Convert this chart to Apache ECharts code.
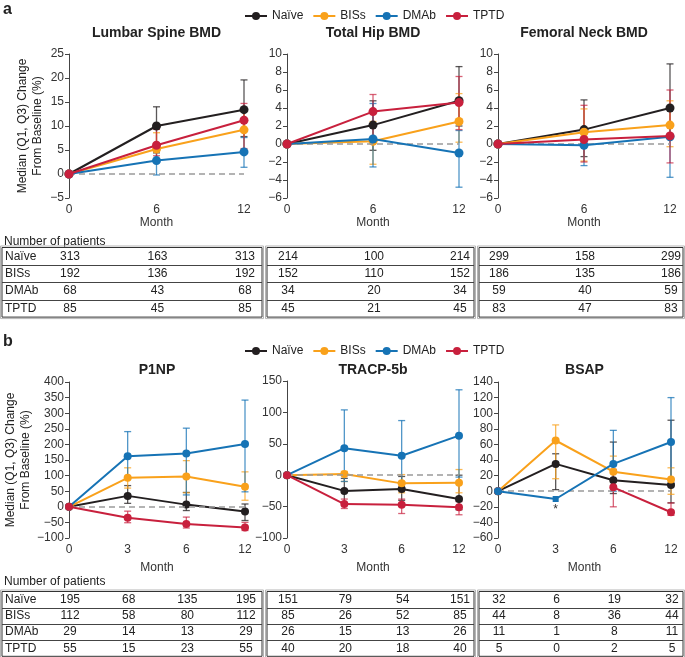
<!DOCTYPE html>
<html><head><meta charset="utf-8">
<script src="https://cdn.jsdelivr.net/npm/echarts@6/dist/echarts.min.js"></script>
<style>html,body{margin:0;padding:0;background:#fff}#c{width:685px;height:657px}</style>
</head><body><div id="c"></div>
<script>
// ---------- categories ----------
const groups = ['Naïve', 'BISs', 'DMAb', 'TPTD'];
const monthsA = ['0', '6', '12'];
const monthsB = ['0', '3', '6', '12'];
const titles = ['Lumbar Spine BMD', 'Total Hip BMD', 'Femoral Neck BMD', 'P1NP', 'TRACP-5b', 'BSAP'];

// ---------- Lumbar Spine BMD (rows: Naïve, BISs, DMAb, TPTD) ----------
const lsMedian = [[0, 10.0, 13.4], [0, 5.2, 9.2], [0, 2.8, 4.6], [0, 6.0, 11.2]];
const lsQ1 = [[null, 4.4, 7.8], [null, 3.2, 5.0], [null, -0.2, 1.4], [null, 3.8, 5.3]];
const lsQ3 = [[null, 14.0, 19.6], [null, 8.6, 13.0], [null, 5.0, 7.6], [null, 9.3, 14.7]];
// ---------- Total Hip BMD ----------
const thMedian = [[0, 2.1, 4.8], [0, 0.3, 2.5], [0, 0.55, -1.0], [0, 3.6, 4.6]];
const thQ1 = [[null, -0.7, 2.0], [null, -2.25, 0.2], [null, -2.55, -4.8], [null, 0.4, 1.6]];
const thQ3 = [[null, 4.8, 8.6], [null, 2.5, 5.6], [null, 4.5, 1.5], [null, 5.5, 7.5]];
// ---------- Femoral Neck BMD ----------
const fnMedian = [[0, 1.6, 4.0], [0, 1.3, 2.1], [0, -0.15, 0.8], [0, 0.5, 0.9]];
const fnQ1 = [[null, -1.4, 0.9], [null, -1.9, -0.3], [null, -2.4, -3.7], [null, -2.0, -2.1]];
const fnQ3 = [[null, 4.9, 8.9], [null, 3.9, 4.8], [null, 1.5, 2.2], [null, 4.3, 6.0]];
// ---------- P1NP ----------
const p1Median = [[0, 35, 7, -15], [0, 93, 97, 64], [0, 162, 171, 201], [0, -35, -55, -66]];
const p1Q1 = [[null, 11, -12, -44], [null, 60, 45, 21], [null, 90, 38, 48], [null, -51, -68, -76]];
const p1Q3 = [[null, 68, 46, 9], [null, 125, 148, 112], [null, 241, 252, 342], [null, -14, -33, -50]];
// ---------- TRACP-5b ----------
const trMedian = [[0, -25, -22, -38], [0, 2, -13, -12], [0, 43, 31, 63], [0, -46, -47, -51]];
const trQ1 = [[null, -45, -40, -55], [null, -10, -28, -28], [null, -10, -10, -3], [null, -53, -61, -63]];
const trQ3 = [[null, -5, -2, 0], [null, 6, 1, 9], [null, 104, 87, 136], [null, -38, -38, -42]];
// ---------- BSAP ----------
const bsMedian = [[0, 35, 14, 8], [0, 65, 25, 15], [0, -10, 35, 63], [0, null, 5, -27]];
const bsQ1 = [[null, 2, -3, -15], [null, 16, 12, -4], [null, null, 0, 10], [null, null, -20, -31]];
const bsQ3 = [[null, 48, 63, 91], [null, 85, 45, 30], [null, null, 78, 120], [null, null, 28, -15]];
const bsNote = [null, '*', null, null]; // note under DMAb at month 3

// ---------- Number of patients ----------
const lsN = [[313, 163, 313], [192, 136, 192], [68, 43, 68], [85, 45, 85]];
const thN = [[214, 100, 214], [152, 110, 152], [34, 20, 34], [45, 21, 45]];
const fnN = [[299, 158, 299], [186, 135, 186], [59, 40, 59], [83, 47, 83]];
const p1N = [[195, 68, 135, 195], [112, 58, 80, 112], [29, 14, 13, 29], [55, 15, 23, 55]];
const trN = [[151, 79, 54, 151], [85, 26, 52, 85], [26, 15, 13, 26], [40, 20, 18, 40]];
const bsN = [[32, 6, 19, 32], [44, 8, 36, 44], [11, 1, 8, 11], [5, 0, 2, 5]];

// ---------- axis ranges [min, max, interval] ----------
const yRanges = [[-5, 25, 5], [-6, 10, 2], [-6, 10, 2], [-100, 400, 50], [-100, 150, 50], [-60, 140, 20]];

// ---------- styling ----------
const FONT = "'Liberation Sans', Arial, sans-serif";
const colors = ['#231f20', '#f9a11b', '#1673b5', '#c8203d'];
const errColors = ['rgba(35,31,32,0.75)', 'rgba(249,161,27,0.75)', 'rgba(22,115,181,0.75)', 'rgba(200,32,61,0.7)'];
const gridBoxes = [
  { left: 69, top: 54, width: 175, height: 144 },
  { left: 287, top: 54, width: 172, height: 144 },
  { left: 498, top: 54, width: 172, height: 144 },
  { left: 69, top: 382, width: 176, height: 156 },
  { left: 287, top: 381, width: 172, height: 157 },
  { left: 498, top: 382, width: 173, height: 156 }
];

const chartDefs = [
  { cats: monthsA, med: lsMedian, q1: lsQ1, q3: lsQ3 },
  { cats: monthsA, med: thMedian, q1: thQ1, q3: thQ3 },
  { cats: monthsA, med: fnMedian, q1: fnQ1, q3: fnQ3 },
  { cats: monthsB, med: p1Median, q1: p1Q1, q3: p1Q3 },
  { cats: monthsB, med: trMedian, q1: trQ1, q3: trQ3 },
  { cats: monthsB, med: bsMedian, q1: bsQ1, q3: bsQ3 }
];

const minus = v => String(v).replace('-', '\u2212');

const xAxes = chartDefs.map((c, i) => ({
  type: 'category', gridIndex: i, data: c.cats, boundaryGap: false,
  axisLine: { show: false }, axisTick: { show: false },
  axisLabel: { fontSize: 12, color: '#333', fontFamily: FONT, margin: 6 },
  name: 'Month', nameLocation: 'middle', nameGap: i < 3 ? 17 : 24,
  nameTextStyle: { fontSize: 12, color: '#333', fontFamily: FONT }
}));

const yAxes = yRanges.map((r, i) => ({
  type: 'value', gridIndex: i, min: r[0], max: r[1], interval: r[2],
  axisLine: { show: true, lineStyle: { color: '#444', width: 1 } },
  axisTick: { show: true, length: 4, lineStyle: { color: '#444' } },
  splitLine: { show: false },
  axisLabel: { fontSize: 12, color: '#333', fontFamily: FONT, margin: 5, formatter: minus },
  name: (i === 0 || i === 3) ? 'Median (Q1, Q3) Change\nFrom Baseline (%)' : '',
  nameLocation: 'middle', nameGap: 24,
  nameTextStyle: { fontSize: 12, color: '#222', fontFamily: FONT, lineHeight: 15 }
}));

function errSeries(ci, gi, c) {
  const data = [];
  c.cats.forEach((cat, j) => {
    if (c.q1[gi][j] != null && c.q3[gi][j] != null) data.push([j, c.q1[gi][j], c.q3[gi][j]]);
  });
  return {
    type: 'custom', xAxisIndex: ci, yAxisIndex: ci, silent: true, z: 2,
    encode: { x: 0, y: [1, 2] },
    renderItem: (params, api) => {
      const x = api.value(0);
      const lo = api.coord([x, api.value(1)]);
      const hi = api.coord([x, api.value(2)]);
      const w = 3.5;
      const st = { stroke: errColors[gi], lineWidth: 1.3 };
      return {
        type: 'group', children: [
          { type: 'line', shape: { x1: lo[0], y1: lo[1], x2: hi[0], y2: hi[1] }, style: st },
          { type: 'line', shape: { x1: lo[0] - w, y1: lo[1], x2: lo[0] + w, y2: lo[1] }, style: st },
          { type: 'line', shape: { x1: hi[0] - w, y1: hi[1], x2: hi[0] + w, y2: hi[1] }, style: st }
        ]
      };
    },
    data
  };
}

const series = [];
chartDefs.forEach((c, ci) => {
  groups.forEach((g, gi) => {
    let data = c.med[gi].slice();
    if (ci === 5 && gi === 2) {
      data = data.map((v, j) => bsNote[j] ? {
        value: v, symbol: 'rect', symbolSize: 6,
        label: { show: true, position: 'bottom', distance: 2, formatter: bsNote[j], color: '#333', fontSize: 12 }
      } : v);
    }
    const s = {
      type: 'line', name: g, xAxisIndex: ci, yAxisIndex: ci, data,
      symbol: 'circle', symbolSize: ci < 3 ? 9 : 8, connectNulls: false,
      lineStyle: { width: 2, color: colors[gi] }, itemStyle: { color: colors[gi] },
      z: (ci === 5 && gi === 2) ? 9 : 3 + gi, silent: true
    };
    if (gi === 0) {
      s.markLine = {
        silent: true, symbol: ['none', 'none'], label: { show: false },
        lineStyle: { type: [6, 4], color: '#9a9a9a', width: 1.5 },
        data: [{ yAxis: 0 }]
      };
    }
    series.push(s);
    series.push(errSeries(ci, gi, c));
  });
});

const legendBase = {
  left: 239, itemWidth: 22, itemHeight: 10, itemGap: 9, data: groups,
  textStyle: { fontSize: 12, color: '#222', fontFamily: FONT }, selectedMode: false
};

const chart = echarts.init(document.getElementById('c'));
chart.setOption({
  animation: false,
  grid: gridBoxes.map(g => Object.assign({ containLabel: false }, g)),
  xAxis: xAxes, yAxis: yAxes,
  legend: [Object.assign({ top: 5 }, legendBase), Object.assign({ top: 340 }, legendBase)],
  series
});

// ---------- titles + tables (positions from the axes) ----------
function txt(text, x, y, font, align) {
  return {
    type: 'text', silent: true, x, y,
    style: { text, font, fill: '#222', align: align || 'center', textAlign: align || 'center', verticalAlign: 'middle', textVerticalAlign: 'middle' }
  };
}
const els = [];
els.push(txt('a', 3, 10, 'bold 16px ' + FONT, 'left'));
els.push(txt('b', 3, 342, 'bold 16px ' + FONT, 'left'));
gridBoxes.forEach((g, i) => {
  els.push(txt(titles[i], g.left + g.width / 2, i < 3 ? 33 : 370, 'bold 14px ' + FONT));
});
const boxX = [[2, 262], [267, 474], [479, 683]];
const panels = [
  { charts: [0, 1, 2], counts: [lsN, thN, fnN], top: 247.5, rowH: 17.4, capY: 242 },
  { charts: [3, 4, 5], counts: [p1N, trN, bsN], top: 591.5, rowH: 16.2, capY: 582 }
];
panels.forEach(p => {
  els.push(txt('Number of patients', 4, p.capY, '12px ' + FONT, 'left'));
  p.charts.forEach((ci, k) => {
    const [x0, x1] = boxX[k];
    const h = p.rowH * 4;
    els.push({ type: 'rect', silent: true, shape: { x: x0 - 1.5, y: p.top - 1.5, width: x1 - x0 + 3, height: h + 3 }, style: { fill: 'none', stroke: '#b5b5b5', lineWidth: 1 } });
    els.push({ type: 'rect', silent: true, shape: { x: x0, y: p.top, width: x1 - x0, height: h }, style: { fill: 'none', stroke: '#333', lineWidth: 1 } });
    for (let r = 1; r < 4; r++) {
      const yy = Math.round(p.top + r * p.rowH) + 0.5;
      els.push({ type: 'line', silent: true, shape: { x1: x0, y1: yy, x2: x1, y2: yy }, style: { stroke: '#444', lineWidth: 1 } });
    }
    const cats = chartDefs[ci].cats;
    groups.forEach((g, gi) => {
      const yc = p.top + (gi + 0.5) * p.rowH;
      if (k === 0) els.push(txt(g, x0 + 3, yc, '12px ' + FONT, 'left'));
      cats.forEach((cat, j) => {
        const px = chart.convertToPixel({ xAxisIndex: ci }, cat);
        els.push(txt(String(p.counts[k][gi][j]), px + 1, yc, '12px ' + FONT));
      });
    });
  });
});
chart.setOption({ graphic: { elements: els } });
</script>
</body></html>
